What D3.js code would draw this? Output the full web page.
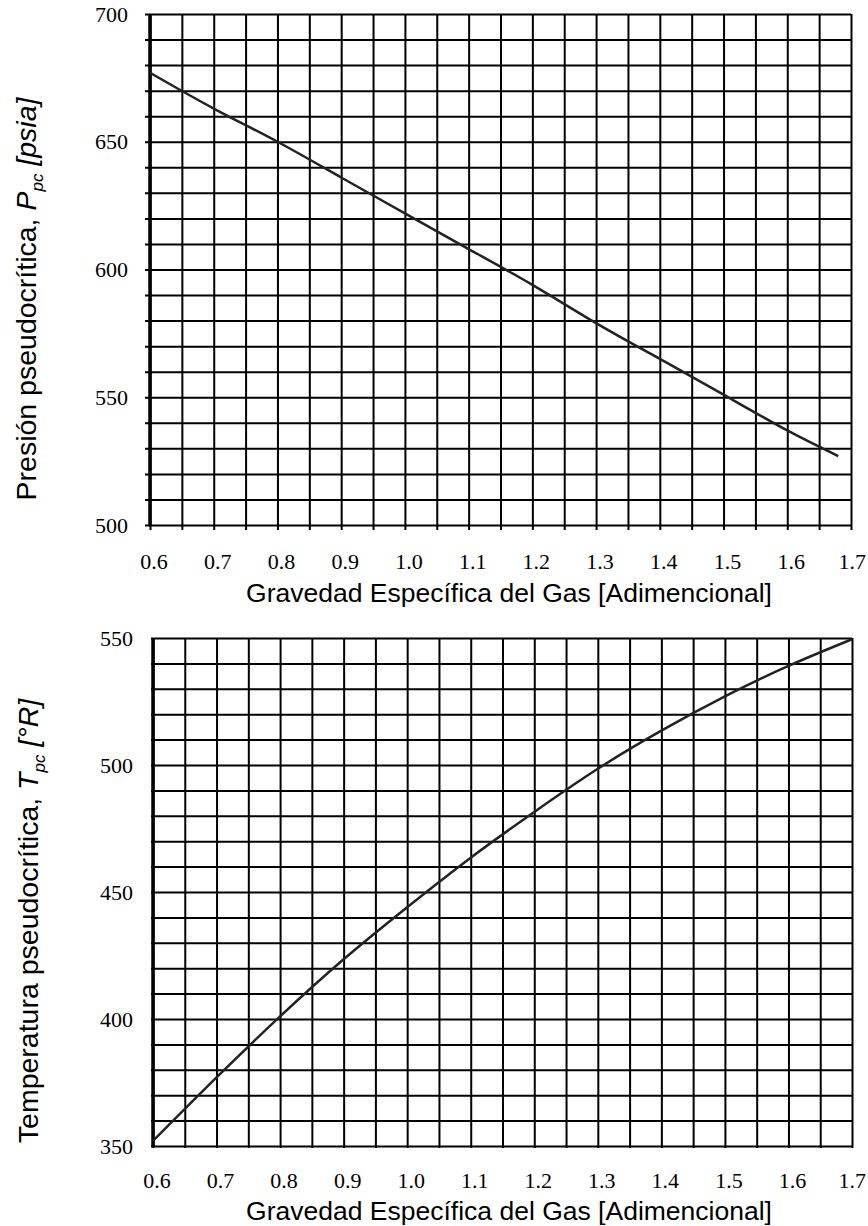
<!DOCTYPE html>
<html>
<head>
<meta charset="utf-8">
<script src="https://cdn.jsdelivr.net/npm/d3@7"></script>
<style>
    body { margin: 0; background: #fff; }
    .grid line { stroke: #000; stroke-width: 2; }
    .grid path { display: none; }
    .tick-label { font-family: "Liberation Serif", "Times New Roman", serif; font-size: 22px; fill: #000; }
    .axis-title { font-family: "Liberation Sans", Arial, sans-serif; font-size: 26.5px; fill: #000; }
    .y-title { font-size: 28.5px; }
    .curve { fill: none; stroke: #222; stroke-width: 2.5; }
</style>
</head>
<body>
<div id="chart"></div>
<script>
// Gas specific gravity (x) and pseudocritical values
const xTickLabels = [0.6, 0.7, 0.8, 0.9, 1.0, 1.1, 1.2, 1.3, 1.4, 1.5, 1.6, 1.7];

const pressureGravity = [0.6, 0.7, 0.8, 0.9, 1.0, 1.1, 1.2, 1.3, 1.4, 1.5, 1.6, 1.68];
const pressureValues = [677, 663, 650, 636, 622, 608, 594, 579, 565, 551, 537, 527];
const pressureTicks = [500, 550, 600, 650, 700];

const tempGravity = [0.6, 0.7, 0.8, 0.9, 1.0, 1.1, 1.2, 1.3, 1.4, 1.5, 1.6, 1.7];
const tempValues = [352, 377, 401, 423.5, 444, 463.5, 481.5, 498.5, 513.5, 527, 539, 549.5];
const tempTicks = [350, 400, 450, 500, 550];

class GridChart {

    constructor(svg, box, xs, ys, yTicks, yDomain, yStep, titleParts) {
        this.svg = svg;
        this.box = box;
        this.xs = xs;
        this.ys = ys;
        this.yTicks = yTicks;
        this.yDomain = yDomain;
        this.yStep = yStep;
        this.titleParts = titleParts;
        this.initVis();
    }

    initVis() {
        let vis = this;
        let b = vis.box;

        vis.g = vis.svg.append("g")
            .attr("transform", `translate(${b.left}, ${b.top})`);

        vis.x = d3.scaleLinear().domain([0.6, 1.7]).range([0, b.width]);
        vis.y = d3.scaleLinear().domain(vis.yDomain).range([b.height, 0]);

        // grid every 0.05 in x and every yStep in y
        let gridX = d3.range(0, 23).map(i => +(0.6 + i * 0.05).toFixed(2));
        let nY = Math.round((vis.yDomain[1] - vis.yDomain[0]) / vis.yStep);
        let gridY = d3.range(0, nY + 1).map(i => vis.yDomain[0] + i * vis.yStep);

        vis.g.append("g")
            .attr("class", "grid")
            .attr("transform", `translate(0, ${b.height})`)
            .call(d3.axisBottom(vis.x).tickValues(gridX).tickSize(-b.height - b.tickOut).tickFormat(""))
            .selectAll("line").attr("transform", `translate(0, ${b.tickOut})`);

        vis.g.append("g")
            .attr("class", "grid")
            .call(d3.axisLeft(vis.y).tickValues(gridY).tickSize(-b.width - b.tickOut).tickFormat(""))
            .selectAll("line").attr("transform", `translate(${-b.tickOut}, 0)`);

        // heavier frame on the left side
        vis.g.append("line")
            .attr("x1", 0).attr("x2", 0)
            .attr("y1", 0).attr("y2", b.height)
            .attr("stroke", "#000").attr("stroke-width", 3.5);

        // curve
        let line = d3.line()
            .curve(d3.curveNatural)
            .x((d, i) => vis.x(vis.xs[i]))
            .y(d => vis.y(d));

        vis.g.append("path")
            .attr("class", "curve")
            .attr("d", line(vis.ys));

        // tick labels
        vis.g.selectAll(".ylab")
            .data(vis.yTicks)
            .enter()
            .append("text")
            .attr("class", "tick-label")
            .attr("x", -b.labelGap)
            .attr("y", d => vis.y(d))
            .attr("dy", "0.35em")
            .attr("text-anchor", "end")
            .text(d => d);

        let last = xTickLabels.length - 1;
        vis.g.selectAll(".xlab")
            .data(xTickLabels)
            .enter()
            .append("text")
            .attr("class", "tick-label")
            .attr("x", (d, i) => i === last ? 866 - b.left : vis.x(d) + 4)
            .attr("y", b.height + b.xLabelOffset)
            .attr("text-anchor", (d, i) => i === last ? "end" : "middle")
            .text(d => d.toFixed(1));

        // x title
        vis.svg.append("text")
            .attr("class", "axis-title")
            .attr("x", 509)
            .attr("y", b.top + b.height + b.xTitleOffset)
            .attr("text-anchor", "middle")
            .text("Gravedad Específica del Gas [Adimencional]");

        // y title, rotated, with italic symbol and subscript
        let t = vis.svg.append("text")
            .attr("class", "axis-title y-title")
            .attr("text-anchor", "middle")
            .attr("transform", `translate(${b.yTitleX}, ${b.yTitleY}) rotate(-90)`);

        t.append("tspan").text(vis.titleParts[0]);
        t.append("tspan").attr("font-style", "italic").text(vis.titleParts[1]);
        t.append("tspan").attr("font-style", "italic").attr("font-size", "17px").attr("dy", 7).text("pc");
        t.append("tspan").attr("font-style", "italic").attr("dy", -7).text(vis.titleParts[2]);
    }
}

const svg = d3.select("#chart").append("svg")
    .attr("width", 868)
    .attr("height", 1226);

new GridChart(svg,
    {left: 150, top: 14, width: 701, height: 511, tickOut: 5, labelGap: 22,
        xLabelOffset: 44, xTitleOffset: 77, yTitleX: 36, yTitleY: 299},
    pressureGravity, pressureValues, pressureTicks, [500, 700], 10,
    ["Presión pseudocrítica, ", "P", " [psia]"]);

new GridChart(svg,
    {left: 153, top: 638, width: 699, height: 508, tickOut: 2, labelGap: 20,
        xLabelOffset: 42, xTitleOffset: 74, yTitleX: 38, yTitleY: 921},
    tempGravity, tempValues, tempTicks, [350, 550], 10,
    ["Temperatura pseudocrítica, ", "T", " [°R]"]);
</script>
</body>
</html>
